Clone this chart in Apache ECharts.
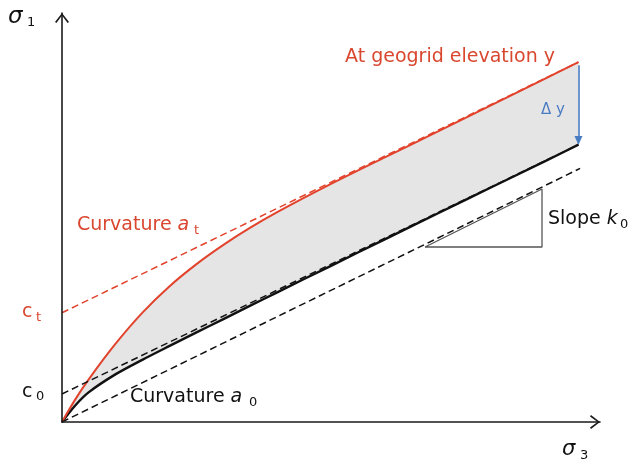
<!DOCTYPE html>
<html><head><meta charset="utf-8">
<script src="https://cdn.jsdelivr.net/npm/echarts@6/dist/echarts.min.js"></script>
<style>html,body{margin:0;padding:0;background:#fff}#c{width:636px;height:466px}</style>
</head><body><div id="c"></div>
<script>
// ---- data (σ3 on x, σ1 on y, arbitrary units) ----
const sigma3 = [0, 0.25, 0.5, 1, 1.5, 2, 2.5, 3, 3.5, 4, 5, 6, 7, 8, 9, 9.6];
const sigma1AtGeogrid = [0, 0.56, 1.05, 1.92, 2.68, 3.32, 3.86, 4.33, 4.75, 5.13, 5.82, 6.47, 7.11, 7.76, 8.41, 8.80];
const sigma1Base = [0, 0.41, 0.73, 1.17, 1.526, 1.861, 2.191, 2.516, 2.844, 3.171, 3.819, 4.467, 5.110, 5.751, 6.391, 6.780];
const asymptoteTop = [[0, 2.67], [9.6, 8.80]];     // through c_t
const asymptoteBase = [[0, 0.685], [9.6, 6.78]];   // through c_0
const originLine = [[0, 0], [9.63, 6.2]];          // parallel line through origin
const slopeTriangle = [[6.747, 4.279], [8.922, 5.697], [8.922, 4.279], [6.747, 4.279]];
const deltaY = [[9.6, 8.72], [9.6, 6.88]];

const RED = '#e2432c', RED_TXT = '#d9472f', BLUE = '#4a7cc4', FONT = 'DejaVu Sans';
const chevron = 'path://M0,9 L7,0 L14,9 L12.6,10 L7,2.4 L1.4,10 Z';

const pairs = (xs, ys) => xs.map((x, i) => [x, ys[i]]);

const axisCommon = {
  type: 'value', min: 0, max: 10, z: 10,
  axisLine: { show: true, onZero: true, lineStyle: { color: '#1a1a1a', width: 1.6 },
    symbol: ['none', chevron], symbolSize: [14, 10], symbolOffset: [0, -5] },
  axisTick: { show: false }, axisLabel: { show: false }, splitLine: { show: false }
};

function txt(x, y, text, size, color, italic) {
  return { type: 'text', x: x, y: y, z: 100, silent: true,
    style: { text: text, fontSize: size, fontFamily: FONT, fontStyle: italic ? 'italic' : 'normal',
      fill: color, verticalAlign: 'middle', align: 'left' } };
}
function rtxt(x, y, text, size, color) {
  const t = txt(x, y, text, size, color);
  t.style.rich = { i: { fontStyle: 'italic', fontSize: size, fontFamily: FONT, fill: color } };
  return t;
}

const chart = echarts.init(document.getElementById('c'), null, { renderer: 'canvas' });
chart.setOption({
  animation: false,
  backgroundColor: '#fff',
  grid: { left: 62, right: 36, top: 13, bottom: 44, containLabel: false, outerBoundsMode: 'none' },
  xAxis: axisCommon,
  yAxis: Object.assign({}, axisCommon),
  series: [
    // shaded band between the two envelopes
    { type: 'custom', z: 1, silent: true, data: [[0, 0]],
      renderItem: function (params, api) {
        const pts = [];
        for (let i = 0; i < sigma3.length; i++) pts.push(api.coord([sigma3[i], sigma1AtGeogrid[i]]));
        for (let i = sigma3.length - 1; i >= 0; i--) pts.push(api.coord([sigma3[i], sigma1Base[i]]));
        return { type: 'polygon', shape: { points: pts }, style: { fill: '#e5e5e5' } };
      } },
    { type: 'line', data: pairs(sigma3, sigma1Base), smooth: 0.3, symbol: 'none', z: 3,
      lineStyle: { color: '#111', width: 2.4 } },
    { type: 'line', data: pairs(sigma3, sigma1AtGeogrid), smooth: 0.3, symbol: 'none', z: 3,
      lineStyle: { color: RED, width: 2 } },
    { type: 'line', data: asymptoteTop, symbol: 'none', z: 4,
      lineStyle: { color: RED, width: 1.5, type: [7, 4] } },
    { type: 'line', data: asymptoteBase, symbol: 'none', z: 4,
      lineStyle: { color: '#111', width: 1.5, type: [7, 4] } },
    { type: 'line', data: originLine, symbol: 'none', z: 4,
      lineStyle: { color: '#111', width: 1.5, type: [7, 4] },
      markLine: { silent: true, animation: false, symbol: ['none', 'triangle'], symbolSize: [8, 9],
        label: { show: false }, lineStyle: { color: BLUE, width: 1.6, type: 'solid' },
        data: [[{ coord: deltaY[0] }, { coord: deltaY[1] }]] } },
    { type: 'line', data: slopeTriangle, symbol: 'none', z: 4,
      lineStyle: { color: '#555', width: 1.3 } }
  ],
  graphic: [
    txt(8, 17, 'σ', 23, '#111', true), txt(27, 23, '1', 13, '#111'),
    txt(562, 450, 'σ', 21, '#111', true), txt(580, 456, '3', 13, '#111'),
    txt(345, 57, 'At geogrid elevation y', 19, RED_TXT),
    rtxt(77, 225, 'Curvature {i|a}', 19, RED_TXT), txt(194, 231, 't', 13, RED_TXT),
    rtxt(130, 397, 'Curvature {i|a}', 19, '#111'), txt(249, 403, '0', 13, '#111'),
    rtxt(548, 219, 'Slope {i|k}', 19, '#111'), txt(620, 225, '0', 13, '#111'),
    txt(22, 312, 'c', 19, RED_TXT), txt(36, 318, 't', 13, RED_TXT),
    txt(22, 392, 'c', 19, '#111'), txt(36, 397, '0', 13, '#111'),
    txt(541, 110, 'Δ y', 15, BLUE)
  ]
});
</script></body></html>
